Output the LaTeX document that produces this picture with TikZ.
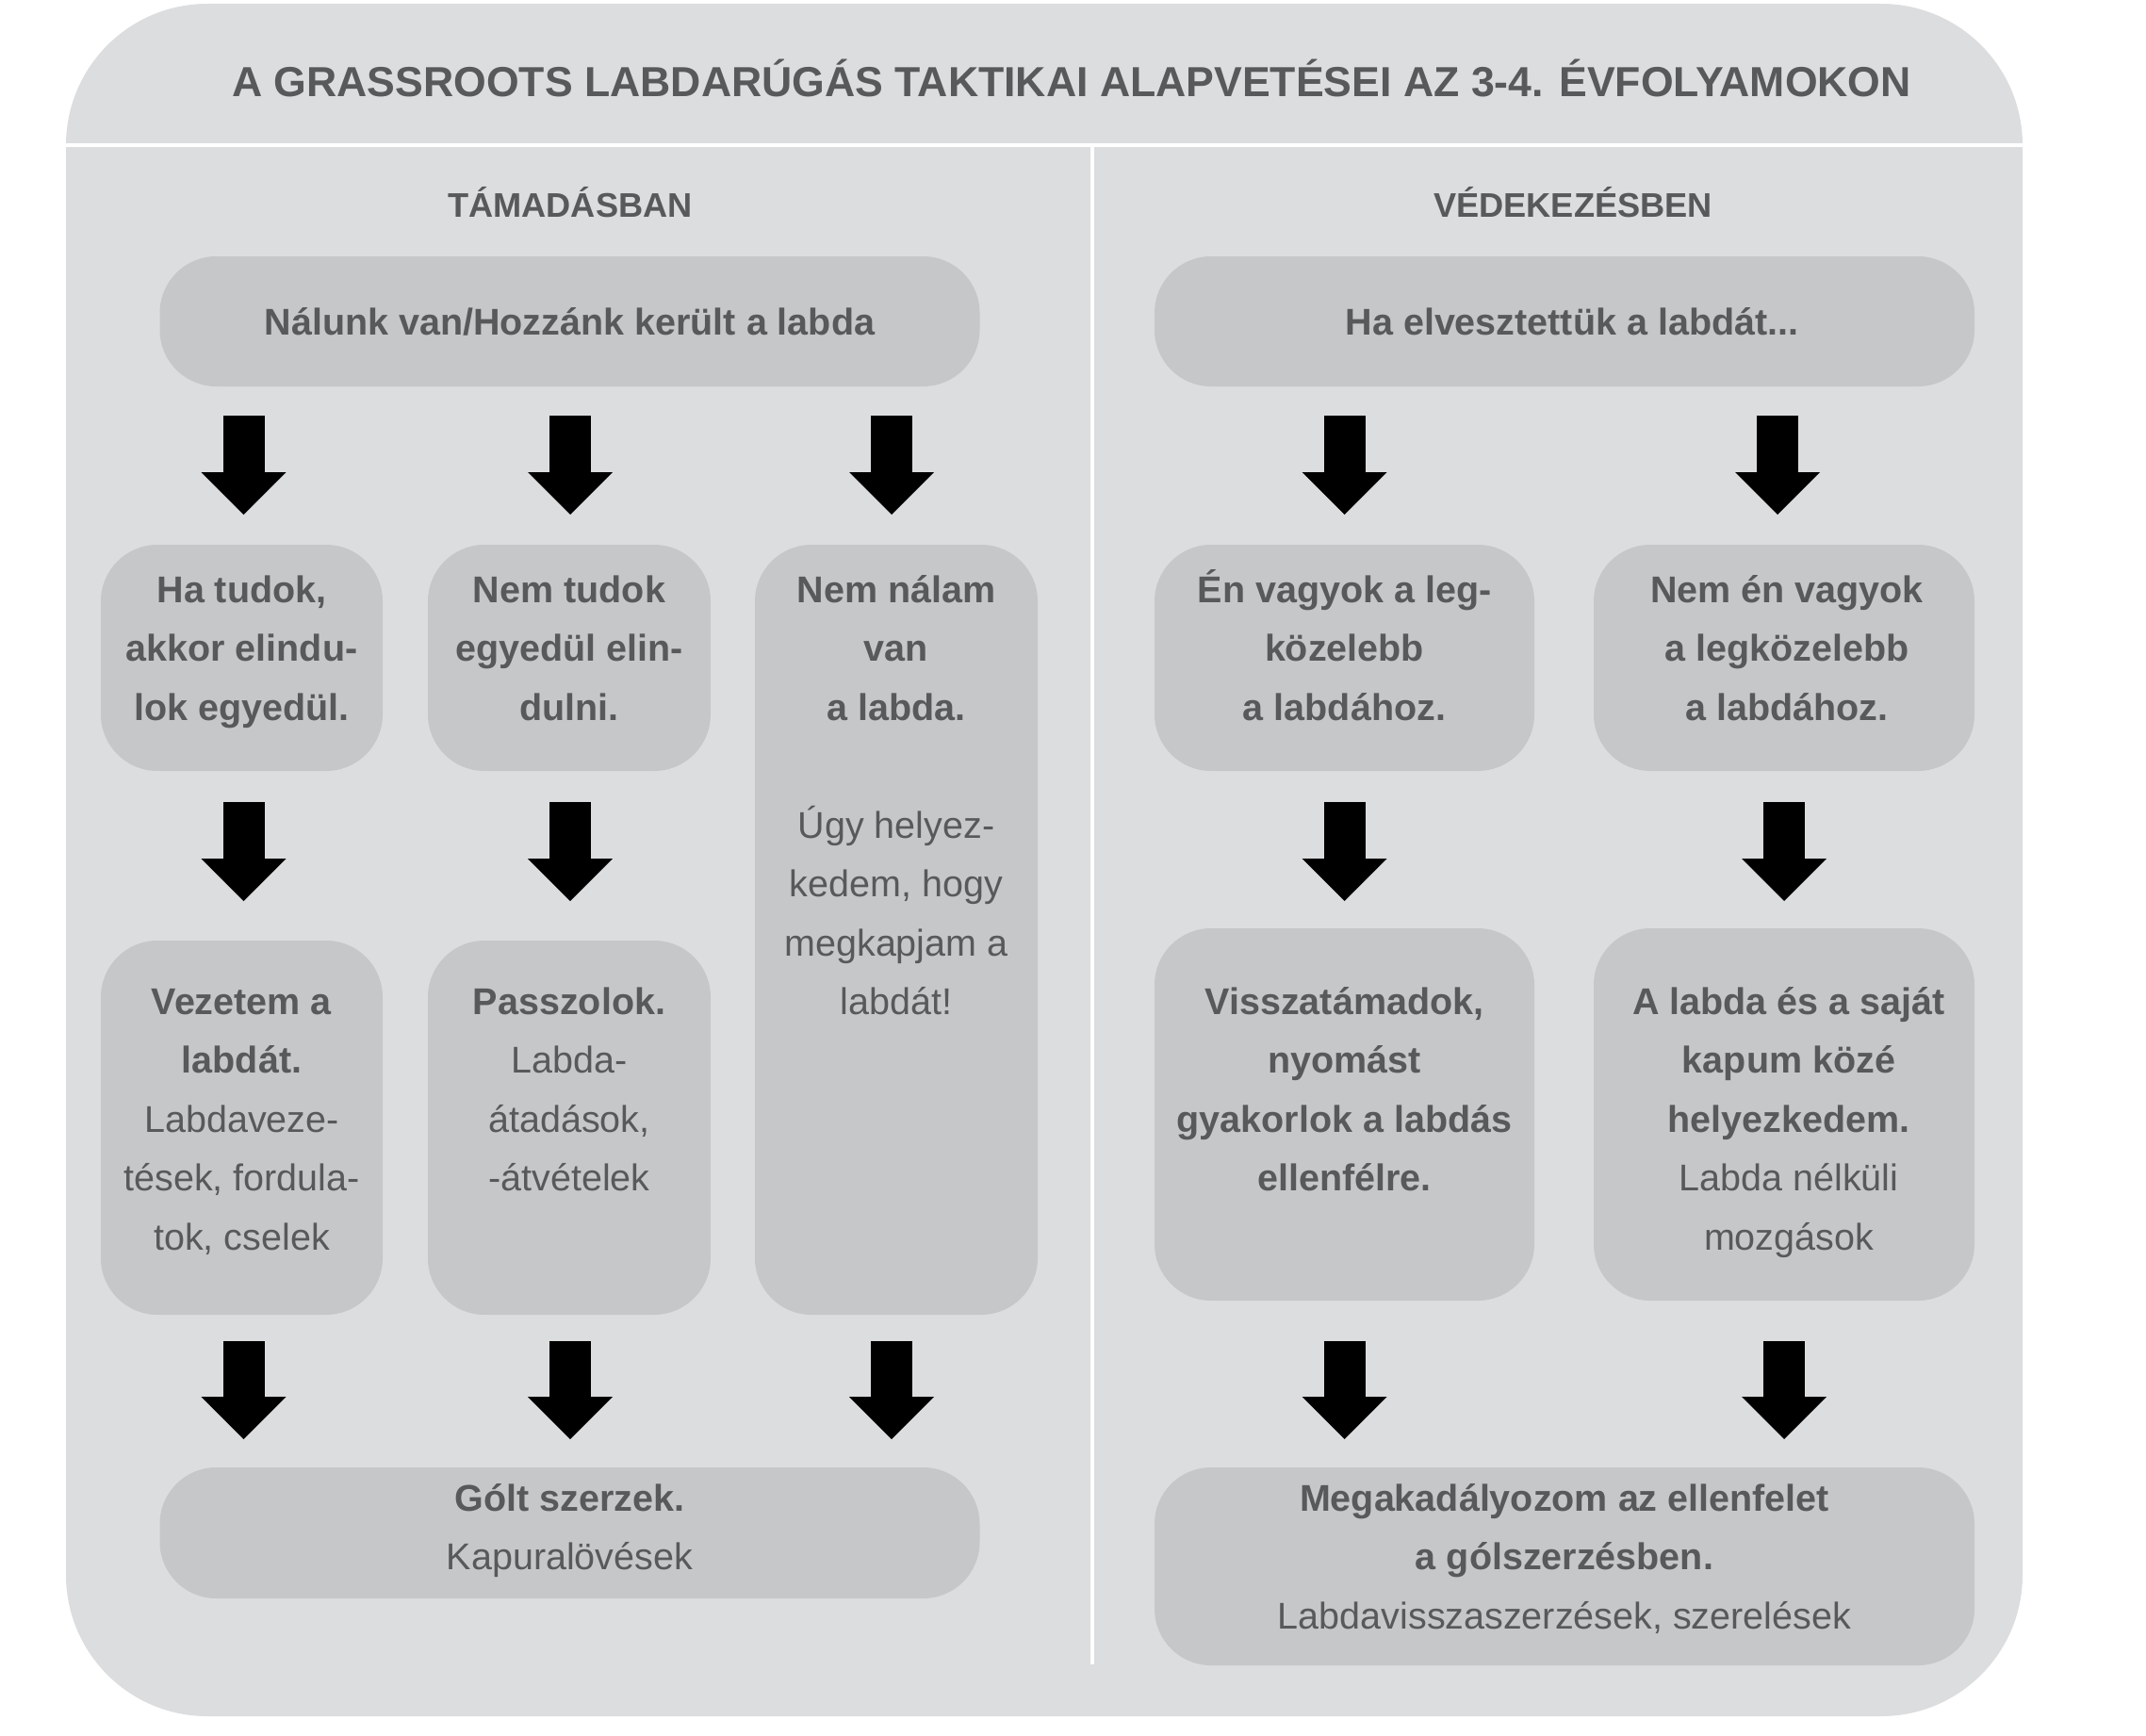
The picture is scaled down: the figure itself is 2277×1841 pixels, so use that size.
\documentclass[tikz,border=0pt]{standalone}
\usepackage{fontspec}
\setmainfont{Liberation Sans}
\usetikzlibrary{arrows.meta}
\definecolor{panelgray}{HTML}{DCDDDF}
\definecolor{boxgray}{HTML}{C6C7C9}
\definecolor{txtgray}{HTML}{58595B}
\newcommand\fstrut{\rule{0pt}{40pt}}
\begin{document}
\begin{tikzpicture}[x=1pt,y=-1pt,
  boxnode/.style 2 args={fill=boxgray, draw=none, rounded corners=60pt, inner sep=0pt, outer sep=0pt, minimum width=#1, minimum height=#2},
  boxtext/.style={anchor=north, inner sep=0pt, align=center, text=txtgray, font=\fontsize{39.5pt}{62.5pt}\selectfont},
  headtext/.style={anchor=base, inner sep=0pt, text=txtgray, font=\fontsize{36.2pt}{44pt}\selectfont\bfseries},
  barrow/.style={draw=black, line width=44pt, -{Triangle[length=45pt, width=90pt, line width=0pt]}},
  divider/.style={draw=white, line width=4pt}
]
\useasboundingbox (0,0) rectangle (2277,1841);
% panel
\fill[panelgray, rounded corners=150pt] (70,4) rectangle (2146,1821);
\coordinate (hl) at (70,154);
\coordinate (hr) at (2146,154);
\coordinate (vt) at (1159,154);
\coordinate (vb) at (1159,1766);
\draw[divider] (hl) -- (hr);
\draw[divider] (vt) -- (vb);

% title and headings
\node[anchor=base, inner sep=0pt, text=txtgray, font=\fontsize{44.6pt}{50pt}\selectfont\bfseries] (title) at (1137,103) {A GRASSROOTS LABDARÚGÁS TAKTIKAI ALAPVETÉSEI AZ 3-4. ÉVFOLYAMOKON};
\node[headtext] (hatt) at (605,230) {TÁMADÁSBAN};
\node[headtext] (hdef) at (1669,230) {VÉDEKEZÉSBEN};

% boxes
\node[boxnode={870pt}{138pt}] (tl) at (604.5,341) {};
\node[boxnode={870pt}{138pt}] (tr) at (1660,341) {};
\node[boxnode={299pt}{240pt}] (b1) at (256.5,698) {};
\node[boxnode={300pt}{240pt}] (b2) at (604,698) {};
\node[boxnode={300pt}{817pt}] (b3) at (951,986.5) {};
\node[boxnode={403pt}{240pt}] (b4) at (1426.5,698) {};
\node[boxnode={404pt}{240pt}] (b5) at (1893,698) {};
\node[boxnode={299pt}{397pt}] (b6) at (256.5,1196.5) {};
\node[boxnode={300pt}{397pt}] (b7) at (604,1196.5) {};
\node[boxnode={403pt}{395pt}] (b8) at (1426.5,1182.5) {};
\node[boxnode={404pt}{395pt}] (b9) at (1893,1182.5) {};
\node[boxnode={870pt}{139pt}] (bl) at (604.5,1626.5) {};
\node[boxnode={870pt}{210pt}] (br) at (1660,1662) {};

% texts
\node[boxtext] (ttl) at (604.5,315) {\fstrut\textbf{Nálunk van/Hozzánk került a labda}};
\node[boxtext] (ttr) at (1668,315) {\fstrut\textbf{Ha elvesztettük a labdát...}};
\node[boxtext] (t1) at (256.5,599) {\fstrut\textbf{Ha tudok,}\\\textbf{akkor elindu-}\\\textbf{lok egyedül.}};
\node[boxtext] (t2) at (604,599) {\fstrut\textbf{Nem tudok}\\\textbf{egyedül elin-}\\\textbf{dulni.}};
\node[boxtext] (t3) at (951,599) {\fstrut\textbf{Nem nálam}\\\textbf{van}\\\textbf{a labda.}\\[62.5pt]Úgy helyez-\\kedem, hogy\\megkapjam a\\labdát!};
\node[boxtext] (t4) at (1426.5,599) {\fstrut\textbf{Én vagyok a leg-}\\\textbf{közelebb}\\\textbf{a labdához.}};
\node[boxtext] (t5) at (1896,599) {\fstrut\textbf{Nem én vagyok}\\\textbf{a legközelebb}\\\textbf{a labdához.}};
\node[boxtext] (t6) at (256.5,1036) {\fstrut\textbf{Vezetem a}\\\textbf{labdát.}\\Labdaveze-\\tések, fordula-\\tok, cselek};
\node[boxtext] (t7) at (604,1036) {\fstrut\textbf{Passzolok.}\\Labda-\\átadások,\\-átvételek};
\node[boxtext] (t8) at (1426.5,1036) {\fstrut\textbf{Visszatámadok,}\\\textbf{nyomást}\\\textbf{gyakorlok a labdás}\\\textbf{ellenfélre.}};
\node[boxtext] (t9) at (1898,1036) {\fstrut\textbf{A labda és a saját}\\\textbf{kapum közé}\\\textbf{helyezkedem.}\\Labda nélküli\\mozgások};
\node[boxtext] (tbl) at (604.5,1563) {\fstrut\textbf{Gólt szerzek.}\\Kapuralövések};
\node[boxtext] (tbr) at (1660,1563) {\fstrut\textbf{Megakadályozom az ellenfelet}\\\textbf{a gólszerzésben.}\\Labdavisszaszerzések, szerelések};

% arrows row 1
\draw[barrow] ([yshift=-31pt,xshift=2pt]tl.south -| b1.center) -- ++(0,105);
\draw[barrow] ([yshift=-31pt,xshift=1pt]tl.south -| b2.center) -- ++(0,105);
\draw[barrow] ([yshift=-31pt,xshift=-5pt]tl.south -| b3.center) -- ++(0,105);
\draw[barrow] ([yshift=-31pt]tr.south -| b4.center) -- ++(0,105);
\draw[barrow] ([yshift=-31pt,xshift=-7pt]tr.south -| b5.center) -- ++(0,105);
% arrows row 2
\draw[barrow] ([yshift=-33pt,xshift=2pt]b1.south) -- ++(0,105);
\draw[barrow] ([yshift=-33pt,xshift=1pt]b2.south) -- ++(0,105);
\draw[barrow] ([yshift=-33pt]b4.south) -- ++(0,105);
\draw[barrow] ([yshift=-33pt]b5.south) -- ++(0,105);
% arrows row 3
\draw[barrow] ([yshift=-28pt,xshift=2pt]b6.south) -- ++(0,104);
\draw[barrow] ([yshift=-28pt,xshift=1pt]b7.south) -- ++(0,104);
\draw[barrow] ([yshift=-28pt,xshift=-5pt]b3.south) -- ++(0,104);
\draw[barrow] ([yshift=-43pt]b8.south) -- ++(0,104);
\draw[barrow] ([yshift=-43pt]b9.south) -- ++(0,104);
\end{tikzpicture}
\end{document}
